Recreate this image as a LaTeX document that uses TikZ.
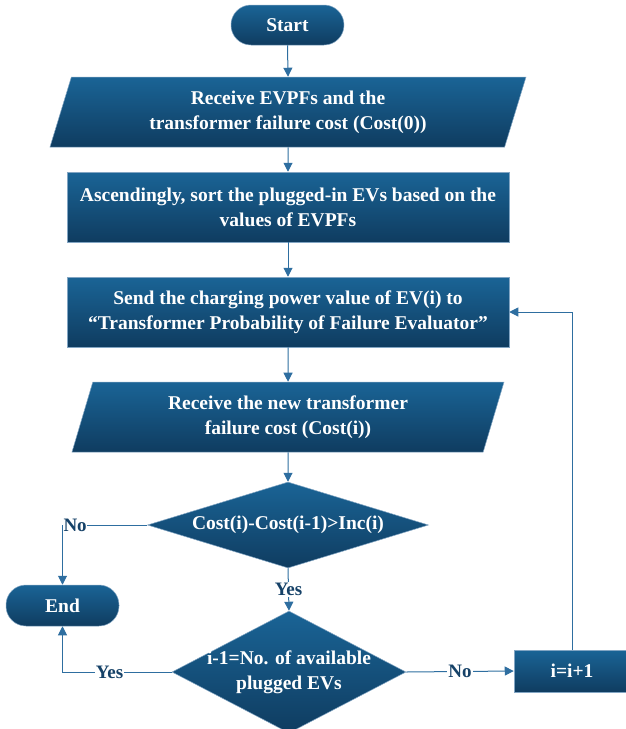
\documentclass[tikz,border=0pt]{standalone}
\usepackage{fontspec}
\setmainfont{Liberation Serif}
\usetikzlibrary{arrows.meta,shapes.geometric}
\definecolor{boxtop}{RGB}{26,100,150}
\definecolor{boxbot}{RGB}{15,60,96}
\definecolor{boxline}{RGB}{130,165,195}
\definecolor{arrowc}{RGB}{46,110,160}
\definecolor{labc}{RGB}{22,66,104}
\tikzset{
  shapefill/.style={top color=boxtop, bottom color=boxbot, draw=boxline, line width=0.5pt,
    text=white, font=\bfseries\fontsize{19.5}{25}\selectfont, align=center, inner sep=0pt},
  terminal/.style={shapefill, rectangle, rounded corners=19.9pt, minimum width=113pt, minimum height=40pt},
  process/.style={shapefill, rectangle, minimum height=70pt},
  io/.style={shapefill, trapezium, trapezium stretches body, minimum height=70pt},
  decision/.style={shapefill, diamond},
  conn/.style={draw=arrowc, line width=1pt, -{Triangle[length=9pt,width=9pt]}},
  lab/.style={text=labc, font=\bfseries\fontsize{19}{20}\selectfont, fill=white, inner sep=1pt},
}
\begin{document}
\begin{tikzpicture}[x=1pt,y=-1pt]
\useasboundingbox (0,0) rectangle (625,729);
\node[terminal] (start) at (287.5,25) {Start};
\node[io, minimum width=476pt, trapezium left angle=63.4, trapezium right angle=116.6] (p1) at (288,112)
  {Receive EVPFs and the\\transformer failure cost (Cost(0))};
\node[process, minimum width=442pt] (r1) at (288,207)
  {Ascendingly, sort the plugged-in EVs based on the\\values of EVPFs};
\node[process, minimum width=442pt] (r2) at (288,312)
  {Send the charging power value of EV(i) to\\“Transformer Probability of Failure Evaluator”};
\node[io, minimum width=432pt, trapezium left angle=64.1, trapezium right angle=115.9] (p2) at (288,417)
  {Receive the new transformer\\failure cost (Cost(i))};
\node[decision, aspect=3.27, minimum width=281pt, minimum height=86pt] (d1) at (288,525)
  {Cost(i)-Cost(i-1)>Inc(i)};
\node[decision, aspect=1.92, inner sep=-2.5pt, minimum width=234pt, minimum height=122pt] (d2) at (289,672)
  {i-1=No. of available\\plugged EVs};
\node[terminal, minimum height=41pt] (fin) at (62.5,605.5) {End};
\node[process, minimum width=116pt, minimum height=42pt] (inc) at (572,671) {i=i+1};

\draw[conn] (start.south) -- (p1.north);
\draw[conn] (p1.south) -- (r1.north);
\draw[conn] (r1.south) -- (r2.north);
\draw[conn] (r2.south) -- (p2.north);
\draw[conn] (p2.south) -- (d1.north);
\draw[conn] (d1.south) -- node[lab] {Yes} (d2.north);
\draw[conn] (d1.west) -- (d1.west -| fin.north) node[lab, anchor=west, inner sep=0.5pt] {No} -- (fin.north);
\draw[conn] (d2.west) -- node[lab, pos=0.57] {Yes} (d2.west -| fin.south) -- (fin.south);
\draw[conn] (d2.east) -- node[lab] {No} (inc.west);
\draw[conn] (inc.north) |- (r2.east);
\end{tikzpicture}
\end{document}
